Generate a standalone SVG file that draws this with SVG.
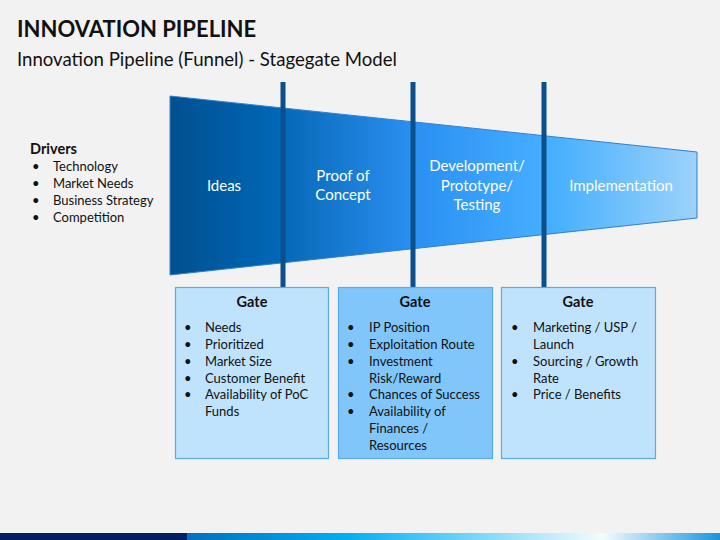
<svg xmlns="http://www.w3.org/2000/svg" width="720" height="540" viewBox="0 0 720 540">
<style>
text{font-family:Lato,"Open Sans","Liberation Sans",sans-serif;fill:#111}
.t{font-size:22px;font-weight:bold}
.s{font-size:18.6px}
.b{font-size:13px}
.h{font-size:14.5px;font-weight:bold}
.w{font-size:15px;fill:#fff;text-anchor:middle}
.g{stroke:#5aa9ea;stroke-width:1.2}
.bar{fill:#0b4f8c}
</style>
<defs>
<linearGradient id="fun" gradientUnits="userSpaceOnUse" x1="170" y1="0" x2="697" y2="0">
<stop offset="0" stop-color="#00508f"/>
<stop offset="0.21" stop-color="#0068b8"/>
<stop offset="0.24" stop-color="#0a6cbc"/>
<stop offset="0.46" stop-color="#2a90f2"/>
<stop offset="0.49" stop-color="#2c93f4"/>
<stop offset="0.70" stop-color="#44adff"/>
<stop offset="0.73" stop-color="#46b0fe"/>
<stop offset="1" stop-color="#9dd2fa"/>
</linearGradient>
<linearGradient id="foot" gradientUnits="userSpaceOnUse" x1="187" y1="0" x2="720" y2="0">
<stop offset="0" stop-color="#0070c0"/>
<stop offset="0.3" stop-color="#00b0f0"/>
<stop offset="0.78" stop-color="#f4fbff"/>
<stop offset="1" stop-color="#1a94dc"/>
</linearGradient>
</defs>
<rect width="720" height="540" fill="#f2f2f2"/>
<text class="t" x="17" y="37">INNOVATION PIPELINE</text>
<text class="s" x="17" y="66">Innovation Pipeline (Funnel) - Stagegate Model</text>

<g id="drivers">
<text class="h" x="30" y="154">Drivers</text>
<text class="b" x="32" y="171">•</text><text class="b" x="53" y="171">Technology</text>
<text class="b" x="32" y="188">•</text><text class="b" x="53" y="188">Market Needs</text>
<text class="b" x="32" y="205">•</text><text class="b" x="53" y="205">Business Strategy</text>
<text class="b" x="32" y="222">•</text><text class="b" x="53" y="222">Competition</text>
</g>

<g id="funnel">
<polygon points="170,96 697,152 697,218 170,275" fill="url(#fun)" stroke="#2f7fd0" stroke-width="1"/>
<text class="w" x="224" y="191">Ideas</text>
<text class="w" x="343" y="181">Proof of</text>
<text class="w" x="343" y="200">Concept</text>
<text class="w" x="477" y="171">Development/</text>
<text class="w" x="477" y="191">Prototype/</text>
<text class="w" x="477" y="210">Testing</text>
<text class="w" x="621" y="191">Implementation</text>
</g>

<g id="connectors">
<rect class="bar" x="280.5" y="82" width="5" height="206"/>
<rect class="bar" x="410.5" y="82" width="5" height="206"/>
<rect class="bar" x="541.5" y="82" width="5" height="206"/>
</g>

<g id="gate1">
<rect class="g" x="175.5" y="287.5" width="153" height="171" fill="#bfe3fc"/>
<text class="h" x="252" y="307" text-anchor="middle">Gate</text>
<text class="b" x="184" y="332">•</text><text class="b" x="205" y="332">Needs</text>
<text class="b" x="184" y="349">•</text><text class="b" x="205" y="349">Prioritized</text>
<text class="b" x="184" y="366">•</text><text class="b" x="205" y="366">Market Size</text>
<text class="b" x="184" y="383">•</text><text class="b" x="205" y="383">Customer Benefit</text>
<text class="b" x="184" y="399">•</text><text class="b" x="205" y="399">Availability of PoC</text>
<text class="b" x="205" y="416">Funds</text>
</g>

<g id="gate2">
<rect class="g" x="338.5" y="287.5" width="154" height="171" fill="#80c6fa"/>
<text class="h" x="415" y="307" text-anchor="middle">Gate</text>
<text class="b" x="347" y="332">•</text><text class="b" x="369" y="332">IP Position</text>
<text class="b" x="347" y="349">•</text><text class="b" x="369" y="349">Exploitation Route</text>
<text class="b" x="347" y="366">•</text><text class="b" x="369" y="366">Investment</text>
<text class="b" x="369" y="383">Risk/Reward</text>
<text class="b" x="347" y="399">•</text><text class="b" x="369" y="399">Chances of Success</text>
<text class="b" x="347" y="416">•</text><text class="b" x="369" y="416">Availability of</text>
<text class="b" x="369" y="433">Finances /</text>
<text class="b" x="369" y="450">Resources</text>
</g>

<g id="gate3">
<rect class="g" x="501.5" y="287.5" width="154" height="171" fill="#bfe3fc"/>
<text class="h" x="578" y="307" text-anchor="middle">Gate</text>
<text class="b" x="511" y="332">•</text><text class="b" x="533" y="332">Marketing / USP /</text>
<text class="b" x="533" y="349">Launch</text>
<text class="b" x="511" y="366">•</text><text class="b" x="533" y="366">Sourcing / Growth</text>
<text class="b" x="533" y="383">Rate</text>
<text class="b" x="511" y="399">•</text><text class="b" x="533" y="399">Price / Benefits</text>
</g>

<g id="footer">
<rect x="0" y="533" width="187" height="7" fill="#002060"/>
<rect x="187" y="533" width="533" height="7" fill="url(#foot)"/>
</g>
</svg>
